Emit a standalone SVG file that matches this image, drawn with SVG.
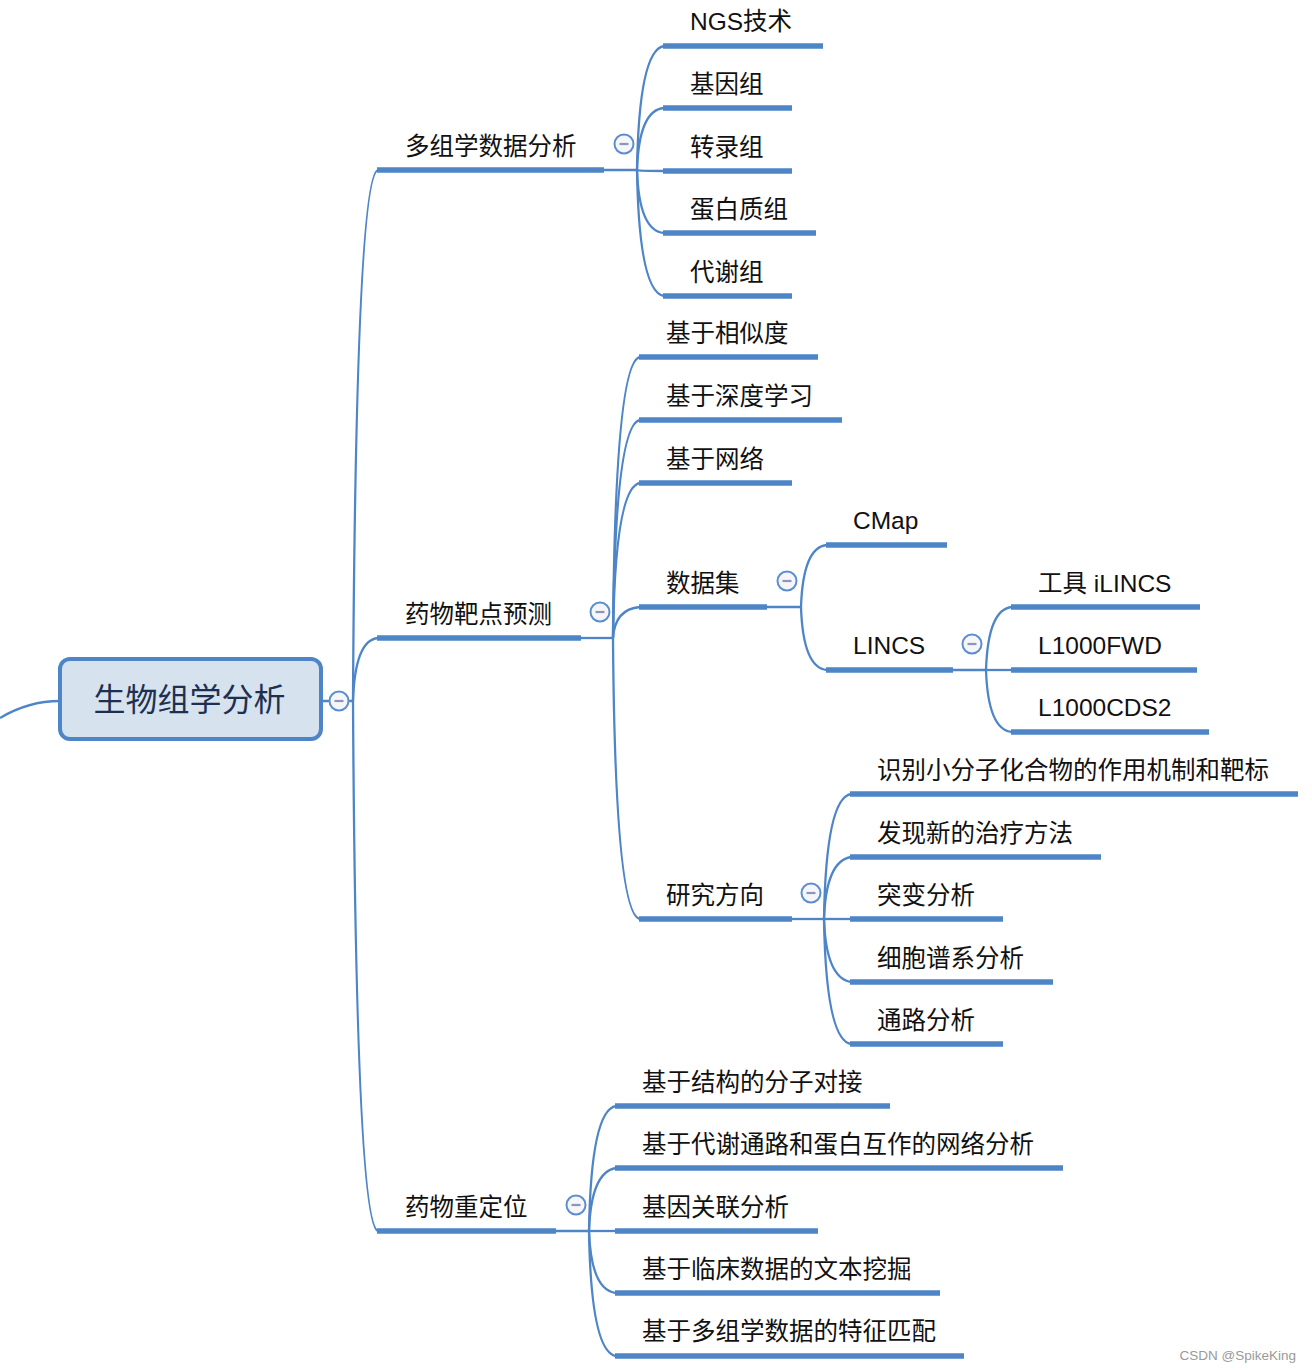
<svg xmlns="http://www.w3.org/2000/svg" width="1312" height="1372" viewBox="0 0 1312 1372">
<style>
.t{font-family:"Liberation Sans","Noto Sans CJK SC",sans-serif;font-size:24.5px;fill:#111}
.root{font-family:"Noto Sans CJK SC","Liberation Sans",sans-serif;font-size:32px;fill:#1e3050}
.ul{stroke:#4d85c7;stroke-width:5.5;fill:none}
.c{stroke:#4d85c7;stroke-width:2.3;fill:none}
.wm{font-family:"Liberation Sans",sans-serif;font-size:13.5px;fill:#9a9a9a}
</style>
<defs>
<g id="minus"><circle r="9.5" fill="#f6f6fa" stroke="#5a8ed0" stroke-width="2"/><line x1="-4.5" y1="0" x2="4.5" y2="0" stroke="#8c97b8" stroke-width="2.2"/></g>
</defs>
<g id="connectors">
<path class="c" d="M0,718 C20,706 40,701 60,701"/>
<path class="c" d="M321,701 H330 M348.5,701 H353"/>
<path class="c" d="M353,701 Q356,176 378,170"/>
<path class="c" d="M353,701 Q355,640 378,638"/>
<path class="c" d="M353,701 Q356,1225 378,1231"/>
<path class="c" d="M604,170 H637"/>
<path class="c" d="M637,170 Q639,50 664,46"/>
<path class="c" d="M637,170 Q639,110 664,108"/>
<path class="c" d="M637,170 Q639,171 664,171"/>
<path class="c" d="M637,170 Q639,231 664,233"/>
<path class="c" d="M637,170 Q639,292 664,296"/>
<path class="c" d="M581,638 H613"/>
<path class="c" d="M613,638 Q615,361 640,357"/>
<path class="c" d="M613,638 Q615,424 640,420"/>
<path class="c" d="M613,638 Q615,487 640,483"/>
<path class="c" d="M613,638 Q615,609 640,607"/>
<path class="c" d="M613,638 Q615,915 640,919"/>
<path class="c" d="M767,607 H801"/>
<path class="c" d="M801,607 Q803,547 827,545"/>
<path class="c" d="M801,607 Q803,668 827,670"/>
<path class="c" d="M953,670 H986"/>
<path class="c" d="M986,670 Q988,609 1012,607"/>
<path class="c" d="M986,670 H1012"/>
<path class="c" d="M986,670 Q988,730 1012,732"/>
<path class="c" d="M792,919 H824"/>
<path class="c" d="M824,919 Q826,798 851,794"/>
<path class="c" d="M824,919 Q826,861 851,857"/>
<path class="c" d="M824,919 H851"/>
<path class="c" d="M824,919 Q826,978 851,982"/>
<path class="c" d="M824,919 Q826,1040 851,1044"/>
<path class="c" d="M556,1231 H589"/>
<path class="c" d="M589,1231 Q591,1110 616,1106"/>
<path class="c" d="M589,1231 Q591,1172 616,1168"/>
<path class="c" d="M589,1231 H616"/>
<path class="c" d="M589,1231 Q591,1290 616,1293"/>
<path class="c" d="M589,1231 Q591,1352 616,1356"/>
</g>
<g id="root">
<rect x="60" y="659" width="261" height="80" rx="10" fill="#d7e2ef" stroke="#4d85c7" stroke-width="4"/>
<text class="root" x="189.5" y="711" text-anchor="middle">生物组学分析</text>
<use href="#minus" x="339" y="701"/>
</g>
<g id="n-duozuxue"><line class="ul" x1="377" y1="170" x2="604" y2="170"/><text class="t" x="405" y="155">多组学数据分析</text><use href="#minus" x="624" y="144"/></g>
<g id="n-ngs"><line class="ul" x1="663" y1="46" x2="823" y2="46"/><text class="t" x="690" y="30">NGS技术</text></g>
<g id="n-jiyinzu"><line class="ul" x1="663" y1="108" x2="792" y2="108"/><text class="t" x="690" y="93">基因组</text></g>
<g id="n-zhuanluzu"><line class="ul" x1="663" y1="171" x2="792" y2="171"/><text class="t" x="690" y="156">转录组</text></g>
<g id="n-danbaizhizu"><line class="ul" x1="663" y1="233" x2="816" y2="233"/><text class="t" x="690" y="218">蛋白质组</text></g>
<g id="n-daixiezu"><line class="ul" x1="663" y1="296" x2="792" y2="296"/><text class="t" x="690" y="281">代谢组</text></g>
<g id="n-yaowubadian"><line class="ul" x1="377" y1="638" x2="581" y2="638"/><text class="t" x="405" y="623">药物靶点预测</text><use href="#minus" x="600" y="612"/></g>
<g id="n-xiangsidu"><line class="ul" x1="639" y1="357" x2="818" y2="357"/><text class="t" x="666" y="342">基于相似度</text></g>
<g id="n-shendu"><line class="ul" x1="639" y1="420" x2="842" y2="420"/><text class="t" x="666" y="405">基于深度学习</text></g>
<g id="n-wangluo"><line class="ul" x1="639" y1="483" x2="792" y2="483"/><text class="t" x="666" y="468">基于网络</text></g>
<g id="n-shujuji"><line class="ul" x1="639" y1="607" x2="767" y2="607"/><text class="t" x="666" y="592">数据集</text><use href="#minus" x="787" y="581"/></g>
<g id="n-cmap"><line class="ul" x1="826" y1="545" x2="947" y2="545"/><text class="t" x="853" y="529">CMap</text></g>
<g id="n-lincs"><line class="ul" x1="826" y1="670" x2="953" y2="670"/><text class="t" x="853" y="654">LINCS</text><use href="#minus" x="972" y="644"/></g>
<g id="n-ilincs"><line class="ul" x1="1011" y1="607" x2="1200" y2="607"/><text class="t" x="1038" y="592">工具 iLINCS</text></g>
<g id="n-l1000fwd"><line class="ul" x1="1011" y1="670" x2="1197" y2="670"/><text class="t" x="1038" y="654">L1000FWD</text></g>
<g id="n-l1000cds2"><line class="ul" x1="1011" y1="732" x2="1209" y2="732"/><text class="t" x="1038" y="716">L1000CDS2</text></g>
<g id="n-yanjiu"><line class="ul" x1="639" y1="919" x2="792" y2="919"/><text class="t" x="666" y="904">研究方向</text><use href="#minus" x="811" y="893"/></g>
<g id="n-shibie"><line class="ul" x1="850" y1="794" x2="1298" y2="794"/><text class="t" x="877" y="779">识别小分子化合物的作用机制和靶标</text></g>
<g id="n-faxian"><line class="ul" x1="850" y1="857" x2="1101" y2="857"/><text class="t" x="877" y="842">发现新的治疗方法</text></g>
<g id="n-tubian"><line class="ul" x1="850" y1="919" x2="1003" y2="919"/><text class="t" x="877" y="904">突变分析</text></g>
<g id="n-xibao"><line class="ul" x1="850" y1="982" x2="1053" y2="982"/><text class="t" x="877" y="967">细胞谱系分析</text></g>
<g id="n-tonglu"><line class="ul" x1="850" y1="1044" x2="1003" y2="1044"/><text class="t" x="877" y="1029">通路分析</text></g>
<g id="n-chongdingwei"><line class="ul" x1="377" y1="1231" x2="556" y2="1231"/><text class="t" x="405" y="1216">药物重定位</text><use href="#minus" x="576" y="1205"/></g>
<g id="n-jiegou"><line class="ul" x1="615" y1="1106" x2="890" y2="1106"/><text class="t" x="642" y="1091">基于结构的分子对接</text></g>
<g id="n-daixie"><line class="ul" x1="615" y1="1168" x2="1063" y2="1168"/><text class="t" x="642" y="1153">基于代谢通路和蛋白互作的网络分析</text></g>
<g id="n-guanlian"><line class="ul" x1="615" y1="1231" x2="818" y2="1231"/><text class="t" x="642" y="1216">基因关联分析</text></g>
<g id="n-linchuang"><line class="ul" x1="615" y1="1293" x2="940" y2="1293"/><text class="t" x="642" y="1278">基于临床数据的文本挖掘</text></g>
<g id="n-tezheng"><line class="ul" x1="615" y1="1356" x2="964" y2="1356"/><text class="t" x="642" y="1340">基于多组学数据的特征匹配</text></g>
<text class="wm" x="1296" y="1360" text-anchor="end">CSDN @SpikeKing</text>
</svg>
